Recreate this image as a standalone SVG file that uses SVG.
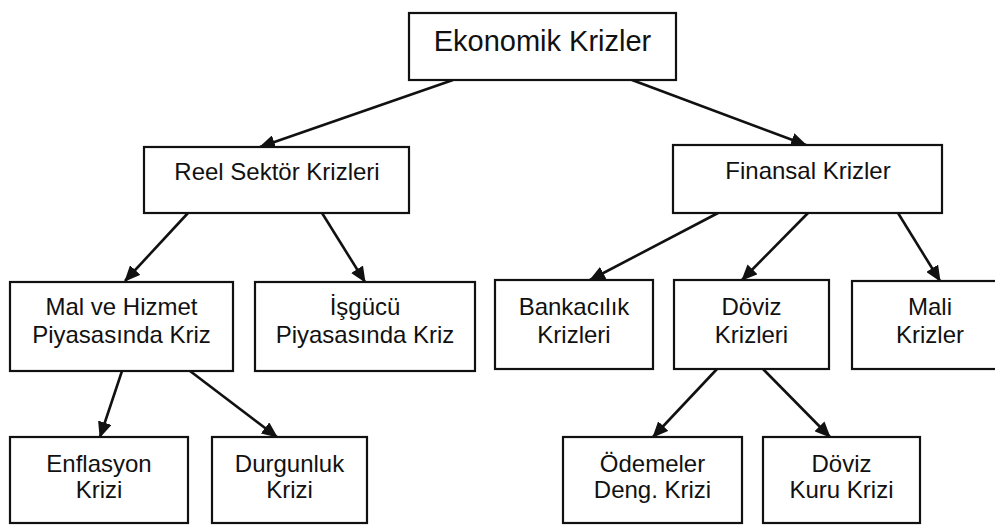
<svg xmlns="http://www.w3.org/2000/svg" width="995" height="526" viewBox="0 0 995 526">
<style>
.box{fill:#fff;stroke:#111;stroke-width:2.2}
.t{font-family:"Liberation Sans",Arial,sans-serif;font-size:24px;fill:#111;text-anchor:middle}
.big{font-size:29px}
.edge{stroke:#111;stroke-width:2.6;fill:none;marker-end:url(#ah)}
</style>
<defs>
<marker id="ah" markerUnits="userSpaceOnUse" markerWidth="16" markerHeight="14" refX="15" refY="7" orient="auto">
<path d="M0,0 L16,7 L0,14 Z" fill="#111"/>
</marker>
</defs>
<rect width="995" height="526" fill="#fff"/>
<g id="edges">
<line class="edge" x1="453" y1="80" x2="260" y2="147"/>
<line class="edge" x1="632" y1="80" x2="806" y2="145"/>
<line class="edge" x1="188" y1="213" x2="125" y2="281"/>
<line class="edge" x1="322" y1="213" x2="365" y2="282"/>
<line class="edge" x1="718" y1="213" x2="590" y2="280"/>
<line class="edge" x1="808" y1="213" x2="742" y2="280"/>
<line class="edge" x1="898" y1="213" x2="940" y2="281"/>
<line class="edge" x1="122" y1="371" x2="100" y2="437"/>
<line class="edge" x1="190" y1="371" x2="277" y2="437"/>
<line class="edge" x1="717" y1="369" x2="653" y2="437"/>
<line class="edge" x1="763" y1="369" x2="830" y2="437"/>
</g>
<g id="ekonomik">
<rect class="box" x="409" y="13" width="267" height="67"/>
<text class="t big" x="542.5" y="51">Ekonomik Krizler</text>
</g>
<g id="reel">
<rect class="box" x="144" y="147" width="265" height="66"/>
<text class="t" x="277" y="180">Reel Sektör Krizleri</text>
</g>
<g id="finansal">
<rect class="box" x="673" y="145" width="269" height="68"/>
<text class="t" x="808" y="179">Finansal Krizler</text>
</g>
<g id="malhizmet">
<rect class="box" x="10" y="282" width="223" height="89"/>
<text class="t" x="121.5" y="315">Mal ve Hizmet</text>
<text class="t" x="121.5" y="343">Piyasasında Kriz</text>
</g>
<g id="isgucu">
<rect class="box" x="255" y="282" width="220" height="89"/>
<text class="t" x="365" y="315">İşgücü</text>
<text class="t" x="365" y="343">Piyasasında Kriz</text>
</g>
<g id="bankacilik">
<rect class="box" x="495" y="280" width="158" height="89"/>
<text class="t" x="574" y="315">Bankacılık</text>
<text class="t" x="574" y="343">Krizleri</text>
</g>
<g id="doviz">
<rect class="box" x="674" y="280" width="155" height="89"/>
<text class="t" x="751.5" y="315">Döviz</text>
<text class="t" x="751.5" y="343">Krizleri</text>
</g>
<g id="mali">
<rect class="box" x="852" y="281" width="156" height="88"/>
<text class="t" x="930" y="315">Mali</text>
<text class="t" x="930" y="343">Krizler</text>
</g>
<g id="enflasyon">
<rect class="box" x="10" y="437" width="178" height="86"/>
<text class="t" x="99" y="472">Enflasyon</text>
<text class="t" x="99" y="498">Krizi</text>
</g>
<g id="durgunluk">
<rect class="box" x="212" y="437" width="155" height="86"/>
<text class="t" x="289.5" y="472">Durgunluk</text>
<text class="t" x="289.5" y="498">Krizi</text>
</g>
<g id="odemeler">
<rect class="box" x="563" y="437" width="179" height="86"/>
<text class="t" x="652.5" y="472">Ödemeler</text>
<text class="t" x="652.5" y="498">Deng. Krizi</text>
</g>
<g id="dovizkuru">
<rect class="box" x="763" y="437" width="157" height="86"/>
<text class="t" x="841.5" y="472">Döviz</text>
<text class="t" x="841.5" y="498">Kuru Krizi</text>
</g>
</svg>
